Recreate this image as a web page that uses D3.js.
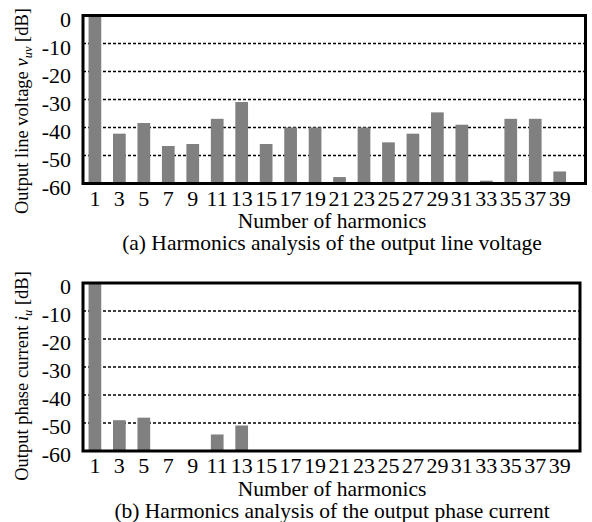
<!DOCTYPE html>
<html>
<head>
<meta charset="utf-8">
<title>Harmonics analysis</title>
<script src="https://d3js.org/d3.v7.min.js"></script>
<style>
  body { margin: 0; background: #fff; }
  svg { display: block; }
  text { font-family: 'Liberation Serif', 'Times New Roman', serif; fill: #000; }
  .grid line { stroke: #000; stroke-width: 1.3; stroke-dasharray: 3,2; }
  .frame { fill: none; stroke: #000; stroke-width: 3; }
  .bar { fill: #808080; }
</style>
</head>
<body>
<svg width="592" height="522"></svg>
<script>
// harmonic orders on the x axis
var harmonics = [1, 3, 5, 7, 9, 11, 13, 15, 17, 19, 21, 23, 25, 27, 29, 31, 33, 35, 37, 39];

// (a) output line voltage v_uv, dB
var voltageDb = [0, -42.2, -38.4, -46.6, -45.9, -36.9, -30.9, -45.9, -40.0, -40.0,
                 -57.7, -40.0, -45.3, -42.2, -34.6, -39.0, -59.0, -36.9, -36.9, -55.7];

// (b) output phase current i_u, dB
var currentDb = [0, -49.0, -48.1, -60, -60, -54.1, -50.9, -60, -60, -60,
                 -60, -60, -60, -60, -60, -60, -60, -60, -60, -60];

var yTicks = [0, -10, -20, -30, -40, -50, -60];

var svg = d3.select("svg");

function drawPanel(p) {
  var y = d3.scaleLinear().domain([-60, 0]).range([p.bottom, p.top]);
  var x = d3.scaleBand()
      .domain(harmonics)
      .range([76.8, 577.8])
      .padding(0.48);

  var g = svg.append("g");

  // dotted gridlines
  g.append("g").attr("class", "grid")
    .selectAll("line")
    .data(yTicks.filter(function(d) { return d > -60 && d < 0; }))
    .enter().append("line")
      .attr("x1", p.left).attr("x2", p.right)
      .attr("y1", function(d) { return y(d); })
      .attr("y2", function(d) { return y(d); });

  // bars rise from the -60 dB floor
  g.selectAll(".bar")
    .data(p.values)
    .enter().append("rect")
      .attr("class", "bar")
      .attr("x", function(d, i) { return x(harmonics[i]); })
      .attr("width", x.bandwidth())
      .attr("y", function(d) { return y(d); })
      .attr("height", function(d) { return y(-60) - y(d); });

  g.append("rect")
    .attr("class", "frame")
    .attr("x", p.left).attr("y", p.top)
    .attr("width", p.right - p.left)
    .attr("height", p.bottom - p.top);

  // y tick labels
  g.selectAll(".ytick")
    .data(yTicks)
    .enter().append("text")
      .attr("class", "ytick")
      .attr("x", 71)
      .attr("y", function(d) { return y(d) + 3.5; })
      .attr("dominant-baseline", "central")
      .attr("text-anchor", "end")
      .attr("font-size", 22)
      .text(function(d) { return d; });

  // x tick labels
  g.selectAll(".xtick")
    .data(harmonics)
    .enter().append("text")
      .attr("class", "xtick")
      .attr("x", function(d) { return x(d) + x.bandwidth() / 2; })
      .attr("y", p.bottom + 22)
      .attr("text-anchor", "middle")
      .attr("font-size", 22)
      .text(function(d) { return d; });

  g.append("text")
    .attr("x", 332)
    .attr("y", p.bottom + 44.5)
    .attr("text-anchor", "middle")
    .attr("font-size", 21.5)
    .text("Number of harmonics");

  g.append("text")
    .attr("x", 332)
    .attr("y", p.bottom + 66.5)
    .attr("text-anchor", "middle")
    .attr("font-size", 21.5)
    .text(p.caption);

  // rotated y label with italic variable and subscript
  var yl = g.append("text")
    .attr("transform", "translate(28," + p.labelY + ") rotate(-90)")
    .attr("text-anchor", "middle")
    .attr("font-size", 18.5);
  yl.append("tspan").text(p.labelPre);
  yl.append("tspan").attr("font-style", "italic").text(p.labelVar);
  yl.append("tspan").attr("font-style", "italic").attr("font-size", 12.5)
    .attr("dy", 4).text(p.labelSub);
  yl.append("tspan").attr("dy", -4).text(" [dB]");
}

drawPanel({
  top: 15.5, bottom: 183.5, left: 83, right: 585.5,
  values: voltageDb,
  caption: "(a) Harmonics analysis of the output line voltage",
  labelY: 111, labelPre: "Output line voltage ", labelVar: "v", labelSub: "uv"
});

drawPanel({
  top: 283, bottom: 451, left: 83, right: 580,
  values: currentDb,
  caption: "(b) Harmonics analysis of the output phase current",
  labelY: 376, labelPre: "Output phase current ", labelVar: "i", labelSub: "u"
});
</script>
</body>
</html>
